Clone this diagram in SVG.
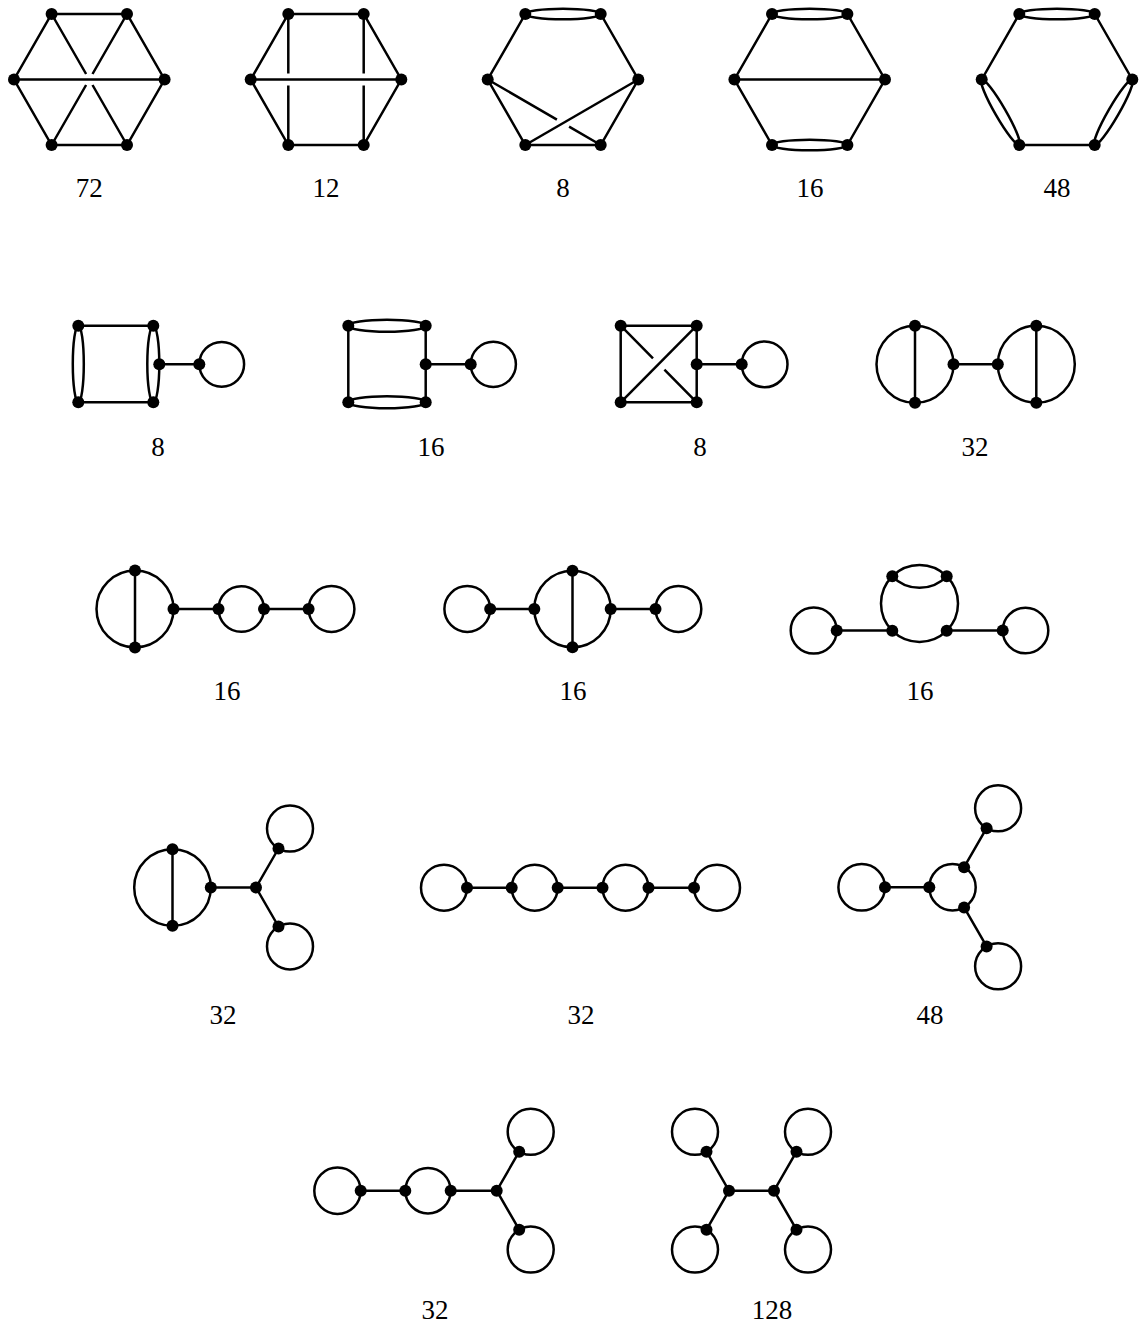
<svg xmlns="http://www.w3.org/2000/svg" width="1139" height="1327" viewBox="0 0 1139 1327">
<style>
.e{fill:none;stroke:#000;stroke-width:2.5;stroke-linecap:butt}
.v circle{fill:#000;r:6px}
.lbl{font-family:"Liberation Serif","Times New Roman",serif;font-size:27px;text-anchor:middle;fill:#000}
</style>
<rect width="1139" height="1327" fill="#fff"/>

<!-- Row 1 -->
<g id="g72">
<g class="e">
<path d="M51.6,14 L127,14 L164.6,79.5 L127,145 L51.6,145 L14,79.5 Z"/>
<path d="M14,79.5 L164.6,79.5"/>
<path d="M51.6,14 L86.1,74 M92.5,85 L127,145"/>
<path d="M127,14 L92.5,74 M86.1,85 L51.6,145"/>
</g>
<g class="v"><circle cx="51.6" cy="14" r="6"/><circle cx="127" cy="14" r="6"/><circle cx="14" cy="79.5" r="6"/><circle cx="164.6" cy="79.5" r="6"/><circle cx="51.6" cy="145" r="6"/><circle cx="127" cy="145" r="6"/></g>
<text class="lbl" x="89.3" y="197">72</text>
</g>

<g id="g12">
<g class="e">
<path d="M288.3,14 L363.7,14 L401.3,79.5 L363.7,145 L288.3,145 L250.7,79.5 Z"/>
<path d="M250.7,79.5 L401.3,79.5"/>
<path d="M288.3,14 L288.3,73.5 M288.3,85.5 L288.3,145"/>
<path d="M363.7,14 L363.7,73.5 M363.7,85.5 L363.7,145"/>
</g>
<g class="v"><circle cx="288.3" cy="14" r="6"/><circle cx="363.7" cy="14" r="6"/><circle cx="250.7" cy="79.5" r="6"/><circle cx="401.3" cy="79.5" r="6"/><circle cx="288.3" cy="145" r="6"/><circle cx="363.7" cy="145" r="6"/></g>
<text class="lbl" x="326" y="197">12</text>
</g>

<g id="g8a">
<g class="e">
<ellipse cx="563" cy="14" rx="37.7" ry="5.3"/>
<path d="M525.3,14 L487.7,79.5 L525.3,145 L600.7,145 L638.3,79.5 L600.7,14"/>
<path d="M638.3,79.5 L525.3,145"/>
<path d="M487.7,79.5 L556.9,119.6 M569.1,126.7 L600.7,145"/>
</g>
<g class="v"><circle cx="525.3" cy="14" r="6"/><circle cx="600.7" cy="14" r="6"/><circle cx="487.7" cy="79.5" r="6"/><circle cx="638.3" cy="79.5" r="6"/><circle cx="525.3" cy="145" r="6"/><circle cx="600.7" cy="145" r="6"/></g>
<text class="lbl" x="563" y="197">8</text>
</g>

<g id="g16a">
<g class="e">
<ellipse cx="809.7" cy="14" rx="37.7" ry="5.3"/>
<ellipse cx="809.7" cy="145" rx="37.7" ry="5.3"/>
<path d="M772,14 L734.4,79.5 L772,145 M847.4,14 L885,79.5 L847.4,145"/>
<path d="M734.4,79.5 L885,79.5"/>
</g>
<g class="v"><circle cx="772" cy="14" r="6"/><circle cx="847.4" cy="14" r="6"/><circle cx="734.4" cy="79.5" r="6"/><circle cx="885" cy="79.5" r="6"/><circle cx="772" cy="145" r="6"/><circle cx="847.4" cy="145" r="6"/></g>
<text class="lbl" x="810" y="197">16</text>
</g>

<g id="g48a">
<g class="e">
<ellipse cx="1057" cy="14" rx="37.7" ry="5.3"/>
<ellipse cx="1000.5" cy="112.25" rx="37.75" ry="5.3" transform="rotate(60 1000.5 112.25)"/>
<ellipse cx="1113.5" cy="112.25" rx="37.75" ry="5.3" transform="rotate(-60 1113.5 112.25)"/>
<path d="M1019.3,14 L981.7,79.5 M1094.7,14 L1132.3,79.5 M1019.3,145 L1094.7,145"/>
</g>
<g class="v"><circle cx="1019.3" cy="14" r="6"/><circle cx="1094.7" cy="14" r="6"/><circle cx="981.7" cy="79.5" r="6"/><circle cx="1132.3" cy="79.5" r="6"/><circle cx="1019.3" cy="145" r="6"/><circle cx="1094.7" cy="145" r="6"/></g>
<text class="lbl" x="1057" y="197">48</text>
</g>

<!-- Row 2 -->
<g id="g8b">
<g class="e">
<ellipse cx="78.3" cy="364" rx="5.5" ry="38.3"/>
<ellipse cx="153.3" cy="364" rx="6" ry="38.3"/>
<path d="M78.3,325.7 L153.3,325.7 M78.3,402.3 L153.3,402.3"/>
<path d="M159.3,364.3 L199.3,364.3"/>
<circle cx="221.7" cy="364.3" r="22.4"/>
</g>
<g class="v"><circle cx="78.3" cy="325.7" r="6"/><circle cx="153.3" cy="325.7" r="6"/><circle cx="78.3" cy="402.3" r="6"/><circle cx="153.3" cy="402.3" r="6"/><circle cx="159.3" cy="364.3" r="6"/><circle cx="199.3" cy="364.3" r="6"/></g>
<text class="lbl" x="158" y="456">8</text>
</g>

<g id="g16b">
<g class="e">
<ellipse cx="387" cy="325.7" rx="38.7" ry="6"/>
<ellipse cx="387" cy="402.3" rx="38.7" ry="6"/>
<path d="M348.3,325.7 L348.3,402.3 M425.7,325.7 L425.7,402.3"/>
<path d="M425.7,364.3 L470.7,364.3"/>
<circle cx="493.3" cy="364.3" r="22.6"/>
</g>
<g class="v"><circle cx="348.3" cy="325.7" r="6"/><circle cx="425.7" cy="325.7" r="6"/><circle cx="348.3" cy="402.3" r="6"/><circle cx="425.7" cy="402.3" r="6"/><circle cx="425.7" cy="364.3" r="6"/><circle cx="470.7" cy="364.3" r="6"/></g>
<text class="lbl" x="431" y="456">16</text>
</g>

<g id="g8c">
<g class="e">
<path d="M620.7,325.7 L696.7,325.7 L696.7,402.3 L620.7,402.3 Z"/>
<path d="M620.7,402.3 L696.7,325.7"/>
<path d="M620.7,325.7 L653,358.3 M664.4,369.7 L696.7,402.3"/>
<path d="M696.7,364.3 L741.7,364.3"/>
<circle cx="764.6" cy="364.3" r="22.9"/>
</g>
<g class="v"><circle cx="620.7" cy="325.7" r="6"/><circle cx="696.7" cy="325.7" r="6"/><circle cx="620.7" cy="402.3" r="6"/><circle cx="696.7" cy="402.3" r="6"/><circle cx="696.7" cy="364.3" r="6"/><circle cx="741.7" cy="364.3" r="6"/></g>
<text class="lbl" x="700" y="456">8</text>
</g>

<g id="g32a">
<g class="e">
<circle cx="915" cy="364.3" r="38.5"/>
<path d="M915,325.8 L915,402.8"/>
<path d="M953.5,364.3 L997.8,364.3"/>
<circle cx="1036.3" cy="364.3" r="38.5"/>
<path d="M1036.3,325.8 L1036.3,402.8"/>
</g>
<g class="v"><circle cx="915" cy="325.8" r="6"/><circle cx="915" cy="402.8" r="6"/><circle cx="953.5" cy="364.3" r="6"/><circle cx="997.8" cy="364.3" r="6"/><circle cx="1036.3" cy="325.8" r="6"/><circle cx="1036.3" cy="402.8" r="6"/></g>
<text class="lbl" x="975" y="456">32</text>
</g>

<!-- Row 3 -->
<g id="g16c">
<g class="e">
<circle cx="135" cy="609" r="38.5"/>
<path d="M135,570.5 L135,647.5"/>
<path d="M173.5,609 L218.5,609"/>
<circle cx="241.25" cy="609" r="22.75"/>
<path d="M264,609 L308.6,609"/>
<circle cx="331.5" cy="609" r="22.9"/>
</g>
<g class="v"><circle cx="135" cy="570.5" r="6"/><circle cx="135" cy="647.5" r="6"/><circle cx="173.5" cy="609" r="6"/><circle cx="218.5" cy="609" r="6"/><circle cx="264" cy="609" r="6"/><circle cx="308.6" cy="609" r="6"/></g>
<text class="lbl" x="227" y="700">16</text>
</g>

<g id="g16d">
<g class="e">
<circle cx="467.3" cy="609" r="22.9"/>
<path d="M490.2,609 L534.3,609"/>
<circle cx="572.5" cy="609" r="38.2"/>
<path d="M572.5,570.8 L572.5,647.2"/>
<path d="M610.7,609 L655.5,609"/>
<circle cx="678.4" cy="609" r="22.9"/>
</g>
<g class="v"><circle cx="490.2" cy="609" r="6"/><circle cx="534.3" cy="609" r="6"/><circle cx="572.5" cy="570.8" r="6"/><circle cx="572.5" cy="647.2" r="6"/><circle cx="610.7" cy="609" r="6"/><circle cx="655.5" cy="609" r="6"/></g>
<text class="lbl" x="573" y="700">16</text>
</g>

<g id="g16e">
<g class="e">
<circle cx="813.7" cy="630.5" r="23"/>
<path d="M836.7,630.5 L892.3,630.5"/>
<circle cx="919.5" cy="603.5" r="38.5"/>
<path d="M892.3,576.3 A38,38 0 0 0 946.7,576.3"/>
<path d="M946.7,630.5 L1002.7,630.5"/>
<circle cx="1025.5" cy="630.5" r="22.8"/>
</g>
<g class="v"><circle cx="836.7" cy="630.5" r="6"/><circle cx="892.3" cy="630.7" r="6"/><circle cx="946.7" cy="630.7" r="6"/><circle cx="892.3" cy="576.3" r="6"/><circle cx="946.7" cy="576.3" r="6"/><circle cx="1002.7" cy="630.5" r="6"/></g>
<text class="lbl" x="920" y="700">16</text>
</g>

<!-- Row 4 -->
<g id="g32b">
<g class="e">
<circle cx="172.5" cy="887.5" r="38.3"/>
<path d="M172.5,849.2 L172.5,925.8"/>
<path d="M210.8,887.5 L256,887.5 M278.5,848.5 L256,887.5 L278.5,926.5"/>
<circle cx="290" cy="828.6" r="23"/>
<circle cx="290" cy="946.4" r="23"/>
</g>
<g class="v"><circle cx="172.5" cy="849.2" r="6"/><circle cx="172.5" cy="925.8" r="6"/><circle cx="210.8" cy="887.5" r="6"/><circle cx="256" cy="887.5" r="6"/><circle cx="278.5" cy="848.5" r="6"/><circle cx="278.5" cy="926.5" r="6"/></g>
<text class="lbl" x="223" y="1024">32</text>
</g>

<g id="g32c">
<g class="e">
<circle cx="444" cy="887.7" r="23"/>
<path d="M467,887.7 L511.7,887.7"/>
<circle cx="534.7" cy="887.7" r="23"/>
<path d="M557.7,887.7 L602.5,887.7"/>
<circle cx="625.5" cy="887.7" r="23"/>
<path d="M648.5,887.7 L694,887.7"/>
<circle cx="717" cy="887.7" r="23"/>
</g>
<g class="v"><circle cx="467" cy="887.7" r="6"/><circle cx="511.7" cy="887.7" r="6"/><circle cx="557.7" cy="887.7" r="6"/><circle cx="602.5" cy="887.7" r="6"/><circle cx="648.5" cy="887.7" r="6"/><circle cx="694" cy="887.7" r="6"/></g>
<text class="lbl" x="581" y="1024">32</text>
</g>

<g id="g48b">
<g class="e">
<circle cx="861.7" cy="887.3" r="23.3"/>
<path d="M885,887.3 L929.3,887.3"/>
<circle cx="952.5" cy="887.3" r="23.2"/>
<path d="M964.1,867.2 L986.6,828.2 M964.1,907.4 L986.6,946.4"/>
<circle cx="998.1" cy="808.3" r="23"/>
<circle cx="998.1" cy="966.3" r="23"/>
</g>
<g class="v"><circle cx="885" cy="887.3" r="6"/><circle cx="929.3" cy="887.3" r="6"/><circle cx="964.1" cy="867.2" r="6"/><circle cx="964.1" cy="907.4" r="6"/><circle cx="986.6" cy="828.2" r="6"/><circle cx="986.6" cy="946.4" r="6"/></g>
<text class="lbl" x="930" y="1024">48</text>
</g>

<!-- Row 5 -->
<g id="g32d">
<g class="e">
<circle cx="337.5" cy="1190.7" r="23.2"/>
<path d="M360.7,1190.7 L405.3,1190.7"/>
<circle cx="428" cy="1190.7" r="22.7"/>
<path d="M450.7,1190.7 L496.7,1190.7 M519.2,1151.7 L496.7,1190.7 L519.2,1229.7"/>
<circle cx="530.7" cy="1131.8" r="23"/>
<circle cx="530.7" cy="1249.6" r="23"/>
</g>
<g class="v"><circle cx="360.7" cy="1190.7" r="6"/><circle cx="405.3" cy="1190.7" r="6"/><circle cx="450.7" cy="1190.7" r="6"/><circle cx="496.7" cy="1190.7" r="6"/><circle cx="519.2" cy="1151.7" r="6"/><circle cx="519.2" cy="1229.7" r="6"/></g>
<text class="lbl" x="435" y="1319">32</text>
</g>

<g id="g128">
<g class="e">
<path d="M706.5,1151.7 L729,1190.7 L706.5,1229.7 M729,1190.7 L774,1190.7 M796.5,1151.7 L774,1190.7 L796.5,1229.7"/>
<circle cx="695" cy="1131.8" r="23"/>
<circle cx="695" cy="1249.6" r="23"/>
<circle cx="808" cy="1131.8" r="23"/>
<circle cx="808" cy="1249.6" r="23"/>
</g>
<g class="v"><circle cx="729" cy="1190.7" r="6"/><circle cx="774" cy="1190.7" r="6"/><circle cx="706.5" cy="1151.7" r="6"/><circle cx="706.5" cy="1229.7" r="6"/><circle cx="796.5" cy="1151.7" r="6"/><circle cx="796.5" cy="1229.7" r="6"/></g>
<text class="lbl" x="772" y="1319">128</text>
</g>
</svg>
